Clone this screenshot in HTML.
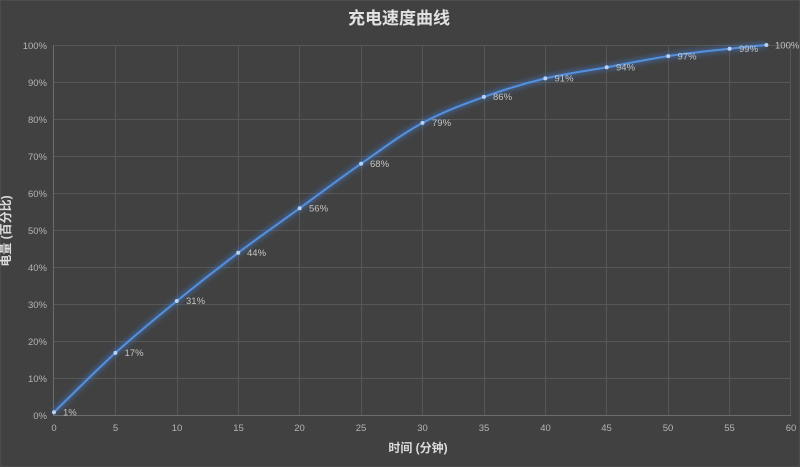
<!DOCTYPE html>
<html><head><meta charset="utf-8"><style>
html,body{margin:0;padding:0;background:#414141;}
svg{display:block;}
text{font-family:"Liberation Sans","Noto Sans CJK SC",sans-serif;}
</style></head><body>
<svg width="800" height="467" viewBox="0 0 800 467" xmlns="http://www.w3.org/2000/svg">
<defs>
<filter id="glow" x="-10%" y="-10%" width="120%" height="120%">
<feGaussianBlur stdDeviation="2.5"/>
</filter>
</defs>
<rect x="0" y="0" width="800" height="467" fill="#414141"/>
<rect x="0.5" y="0.5" width="799" height="466" fill="none" stroke="#4c4c4c"/>
<text x="399" y="24" text-anchor="middle" font-size="17" font-weight="bold" fill="#e2e2e2">充电速度曲线</text>
<g stroke="#575757" stroke-width="1">
<line x1="54" y1="45.5" x2="791" y2="45.5"/>
<line x1="54" y1="82.5" x2="791" y2="82.5"/>
<line x1="54" y1="119.5" x2="791" y2="119.5"/>
<line x1="54" y1="156.5" x2="791" y2="156.5"/>
<line x1="54" y1="193.5" x2="791" y2="193.5"/>
<line x1="54" y1="230.5" x2="791" y2="230.5"/>
<line x1="54" y1="267.5" x2="791" y2="267.5"/>
<line x1="54" y1="304.5" x2="791" y2="304.5"/>
<line x1="54" y1="341.5" x2="791" y2="341.5"/>
<line x1="54" y1="378.5" x2="791" y2="378.5"/>
<line x1="115.5" y1="45" x2="115.5" y2="416"/>
<line x1="177.5" y1="45" x2="177.5" y2="416"/>
<line x1="238.5" y1="45" x2="238.5" y2="416"/>
<line x1="299.5" y1="45" x2="299.5" y2="416"/>
<line x1="361.5" y1="45" x2="361.5" y2="416"/>
<line x1="422.5" y1="45" x2="422.5" y2="416"/>
<line x1="484.5" y1="45" x2="484.5" y2="416"/>
<line x1="545.5" y1="45" x2="545.5" y2="416"/>
<line x1="606.5" y1="45" x2="606.5" y2="416"/>
<line x1="668.5" y1="45" x2="668.5" y2="416"/>
<line x1="729.5" y1="45" x2="729.5" y2="416"/>
<line x1="790.5" y1="45" x2="790.5" y2="416"/>
</g>
<g stroke="#6c6c6c" stroke-width="1">
<line x1="53.5" y1="45" x2="53.5" y2="416"/>
<line x1="53" y1="415.5" x2="791" y2="415.5"/>
</g>
<g font-size="9.5" fill="#b4b4b4" text-anchor="end">
<text x="47" y="49">100%</text>
<text x="47" y="86">90%</text>
<text x="47" y="123">80%</text>
<text x="47" y="160">70%</text>
<text x="47" y="197">60%</text>
<text x="47" y="234">50%</text>
<text x="47" y="271">40%</text>
<text x="47" y="308">30%</text>
<text x="47" y="345">20%</text>
<text x="47" y="382">10%</text>
<text x="47" y="419">0%</text>
</g>
<g font-size="9.5" fill="#b4b4b4" text-anchor="middle">
<text x="54" y="431">0</text>
<text x="115.5" y="431">5</text>
<text x="177" y="431">10</text>
<text x="238.5" y="431">15</text>
<text x="299.5" y="431">20</text>
<text x="361" y="431">25</text>
<text x="422.5" y="431">30</text>
<text x="484" y="431">35</text>
<text x="545.5" y="431">40</text>
<text x="606.5" y="431">45</text>
<text x="668" y="431">50</text>
<text x="729.5" y="431">55</text>
<text x="791" y="431">60</text>
</g>
<text x="418" y="452" text-anchor="middle" font-size="12" font-weight="bold" fill="#dcdcdc">时间 (分钟)</text>
<text transform="translate(10,231) rotate(-90)" text-anchor="middle" font-size="12" font-weight="bold" fill="#dcdcdc">电量 (百分比)</text>
<path id="curve" d="M54,412.3 C64.2,402.4 94.9,371.5 115.4,352.9 C135.9,334.4 156.3,317.7 176.8,301.0 C197.3,284.3 217.7,268.3 238.2,252.8 C258.7,237.3 279.2,223.05 299.7,208.2 C320.2,193.35 340.6,177.9 361.1,163.7 C381.6,149.5 402.0,134.0 422.5,122.9 C443.0,111.8 463.4,104.3 483.9,96.9 C504.4,89.5 524.8,83.3 545.3,78.4 C565.8,73.5 586.2,71.0 606.7,67.3 C627.2,63.6 647.7,59.2 668.2,56.1 C688.7,53.0 713.2,50.55 729.6,48.7 C746.0,46.85 760.3,45.6 766.4,45.0" fill="none" stroke="#3f7fd6" stroke-width="6" stroke-opacity="0.45" filter="url(#glow)"/>
<path d="M54,412.3 C64.2,402.4 94.9,371.5 115.4,352.9 C135.9,334.4 156.3,317.7 176.8,301.0 C197.3,284.3 217.7,268.3 238.2,252.8 C258.7,237.3 279.2,223.05 299.7,208.2 C320.2,193.35 340.6,177.9 361.1,163.7 C381.6,149.5 402.0,134.0 422.5,122.9 C443.0,111.8 463.4,104.3 483.9,96.9 C504.4,89.5 524.8,83.3 545.3,78.4 C565.8,73.5 586.2,71.0 606.7,67.3 C627.2,63.6 647.7,59.2 668.2,56.1 C688.7,53.0 713.2,50.55 729.6,48.7 C746.0,46.85 760.3,45.6 766.4,45.0" fill="none" stroke="#5590de" stroke-width="2"/>
<g fill="#b9d2f2">
<circle cx="54" cy="412.3" r="2"/>
<circle cx="115.4" cy="352.9" r="2"/>
<circle cx="176.8" cy="301.0" r="2"/>
<circle cx="238.2" cy="252.8" r="2"/>
<circle cx="299.7" cy="208.2" r="2"/>
<circle cx="361.1" cy="163.7" r="2"/>
<circle cx="422.5" cy="122.9" r="2"/>
<circle cx="483.9" cy="96.9" r="2"/>
<circle cx="545.3" cy="78.4" r="2"/>
<circle cx="606.7" cy="67.3" r="2"/>
<circle cx="668.2" cy="56.1" r="2"/>
<circle cx="729.6" cy="48.7" r="2"/>
<circle cx="766.4" cy="45.0" r="2"/>
</g>
<g font-size="9.5" fill="#c4c4c4">
<text x="63" y="415.5">1%</text>
<text x="124.5" y="356">17%</text>
<text x="186" y="304">31%</text>
<text x="247" y="256">44%</text>
<text x="309" y="211.5">56%</text>
<text x="370" y="167">68%</text>
<text x="432" y="126">79%</text>
<text x="493" y="100">86%</text>
<text x="554.5" y="81.5">91%</text>
<text x="616" y="70.5">94%</text>
<text x="677.5" y="59.5">97%</text>
<text x="739" y="52">99%</text>
<text x="775" y="48.5">100%</text>
</g>
</svg>
</body></html>
